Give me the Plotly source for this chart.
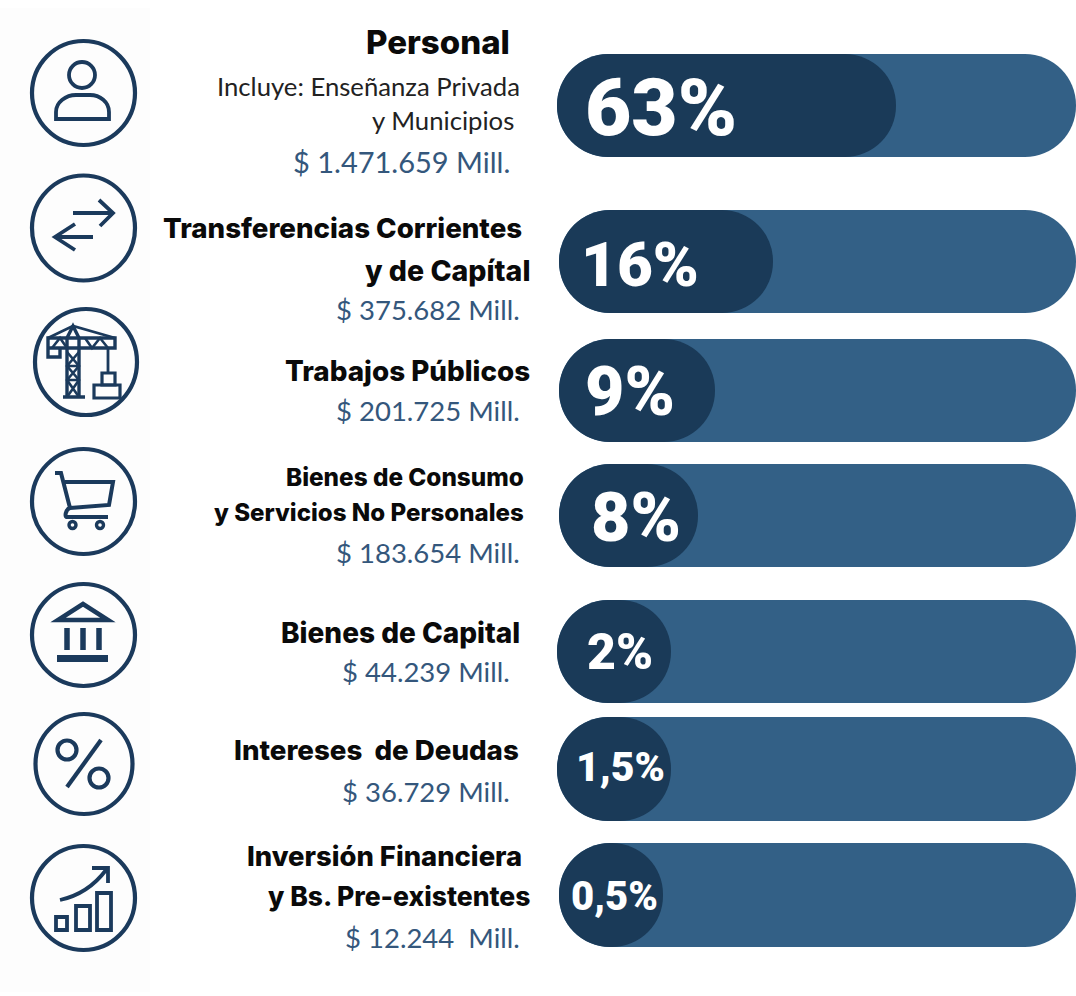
import plotly.graph_objects as go

# ---------- data ----------
pct_labels = ["63%", "16%", "9%", "8%", "2%", "1,5%", "0,5%"]
amounts = ["$ 1.471.659 Mill.", "$ 375.682 Mill.", "$ 201.725 Mill.", "$ 183.654 Mill.",
           "$ 44.239 Mill.", "$ 36.729 Mill.", "$ 12.244  Mill."]
# length of the dark part of each pill, as drawn in the picture (not proportional)
fill_lengths = [339, 214, 156, 139, 114, 114, 104]
track_lengths = [519, 517, 517, 517, 519, 519, 517]
titles = [["Personal"], ["Transferencias Corrientes", "y de Capítal"], ["Trabajos Públicos"],
          ["Bienes de Consumo", "y Servicios No Personales"], ["Bienes de Capital"],
          ["Intereses  de Deudas"], ["Inversión Financiera", "y Bs. Pre-existentes"]]
note_lines = ["Incluye: Enseñanza Privada", "y Municipios"]

# ---------- layout ----------
W, H = 1076, 996
TRACK = "#336086"
DARK = "#1a3a58"
ICON = "#1b3a5c"
AMOUNT = "#34577c"
rows_y = [105.5, 261.5, 390.5, 515.5, 651.5, 769, 895]
rows_h = [103, 103, 103, 103, 103, 104, 104]
rows_x0 = [557, 559, 559, 559, 557, 557, 559]

pct_xy = [(661, 108, 80), (640, 264, 62), (630, 392, 68), (636, 518, 68),
          (620, 652, 50), (620, 767, 41), (614, 896, 40)]
title_xy = [[(512, 42, 33)], [(524, 228, 27.7), (532, 270, 28.5)], [(532, 371, 27.8)],
            [(526, 477, 24.3), (526, 512, 24.1)], [(522, 633, 28)], [(521, 750, 27.7)],
            [(524, 856, 27.4), (532, 896, 26.5)]]
amount_xy = [(512, 161, 29), (522, 309, 27.5), (522, 410, 27.5), (522, 552, 27.5),
             (512, 671, 27.5), (512, 791, 27.5), (522, 937, 27.5)]
note_xy = [(522, 86, 25.7), (516, 120, 25.7)]

fig = go.Figure()
fig.add_trace(go.Bar(orientation="h", y=rows_y, x=track_lengths, base=rows_x0, width=rows_h,
                     marker=dict(color=TRACK, line=dict(width=0)), hoverinfo="skip"))
fig.add_trace(go.Bar(orientation="h", y=rows_y, x=fill_lengths, base=rows_x0, width=rows_h,
                     marker=dict(color=DARK, line=dict(width=0)), hoverinfo="skip"))

ann = []
def txt(s, x, y, size, color, family="Lato", weight=400, anchor="right"):
    ann.append(dict(text=s, x=x, y=y, xref="x", yref="y", xanchor=anchor, yanchor="middle",
                    showarrow=False, font=dict(family=family, size=size, color=color, weight=weight)))

for s, (x, y, sz) in zip(pct_labels, pct_xy):
    txt(s, x, y, sz, "#ffffff", family="Roboto", weight=900, anchor="center")
for lines, xy in zip(titles, title_xy):
    for s, (x, y, sz) in zip(lines, xy):
        txt(s, x, y, sz, "#0a0a0a", family="Inter", weight=800)
for s, (x, y, sz) in zip(amounts, amount_xy):
    txt(s, x, y, sz, AMOUNT)
for s, (x, y, sz) in zip(note_lines, note_xy):
    txt(s, x, y, sz, "#222222")

# ---------- icons ----------
shapes = [dict(type="rect", x0=0, x1=150, y0=8, y1=992, fillcolor="#fdfdfd",
               line=dict(width=0), layer="below")]
def circ(cx, cy, rx, ry=None, w=4.2):
    ry = ry or rx
    shapes.append(dict(type="circle", x0=cx-rx, x1=cx+rx, y0=cy-ry, y1=cy+ry,
                       line=dict(color=ICON, width=w), fillcolor="rgba(0,0,0,0)"))
def path(d, w=3):
    shapes.append(dict(type="path", path=d, line=dict(color=ICON, width=w),
                       fillcolor="rgba(0,0,0,0)"))

for cx, cy, rx, ry in [(83.5, 93, 51.5, 52), (83.5, 228, 51.5, 52.5), (86, 362, 51, 53),
                       (83.5, 501.5, 51.5, 52.5), (83.5, 635, 51.5, 51), (84, 764, 48.5, 50),
                       (83.5, 898, 51.5, 52)]:
    circ(cx, cy, rx, ry)

# person
circ(82, 75, 13, w=3.8)
path("M56,119 L56,112 C56,102 66,95 76,95 L90,95 C100,95 109,102 109,112 L109,119 Z", 3.8)
# arrows
path("M73,213 L113,213 M99,200 L113,213 L100,226", 3.8)
path("M93,237 L55,237 M75,224 L55,237 L75,250", 3.8)
# crane
path("M67,397 L67,338 L73,326 L79,338 L79,397 M63,397 L85,397", 3.4)
path("M48,338 L115,338 L115,348 L48,348 Z M48,348 L48,357 L60,357 L60,348", 3.4)
path("M48,338 L73,326 L115,338 M52,348 L60,338 L67,348 M85,338 L92,348 L100,338 L108,348", 2.6)
path("M67,352 L79,366 L67,380 L79,397 M79,352 L67,366 L79,380 L67,397 M67,366 L79,366 M67,380 L79,380", 2.6)
path("M108,348 L108,373", 2.8)
path("M102,373 L115,373 L115,385 L102,385 Z", 3.2)
path("M94,385 L120,385 L120,398 L94,398 Z", 3.2)
# cart
path("M55,473 L61,473 L70,508 C66,509 64,517 67,517 L108,517 M65,482 L113,482 L109,505 L70,508", 4)
circ(72.5, 525, 3.5, w=3.4)
circ(100, 525, 3.5, w=3.4)
# bank
path("M83,604 L58,620 L108,620 Z", 4.5)
path("M67,628 L67,650 M83,628 L83,650 M99,628 L99,650", 5.5)
path("M57,658.5 L108,658.5", 7)
# percent
path("M101,740 L67,787", 4.2)
circ(67, 750, 9.5, w=4.2)
circ(99, 778, 9.5, w=4.2)
# growth chart
path("M60,900 C78,896 94,886 106,870 M92,868 L108,868 L108,883", 3.8)
path("M56,917 L67,917 L67,930 L56,930 Z", 3.8)
path("M76,906 L90,906 L90,930 L76,930 Z", 3.8)
path("M97,893 L111,893 L111,930 L97,930 Z", 3.8)

fig.update_layout(
    width=W, height=H, margin=dict(l=0, r=0, t=0, b=0),
    paper_bgcolor="#ffffff", plot_bgcolor="rgba(0,0,0,0)",
    barmode="overlay", barcornerradius=51.5, showlegend=False,
    xaxis=dict(range=[0, W], visible=False, fixedrange=True),
    yaxis=dict(range=[H, 0], visible=False, fixedrange=True),
    annotations=ann, shapes=shapes,
)
fig.write_html("out.html", config=dict(displayModeBar=False),
               post_script="document.body.style.margin='0';document.documentElement.style.overflow='hidden';")
